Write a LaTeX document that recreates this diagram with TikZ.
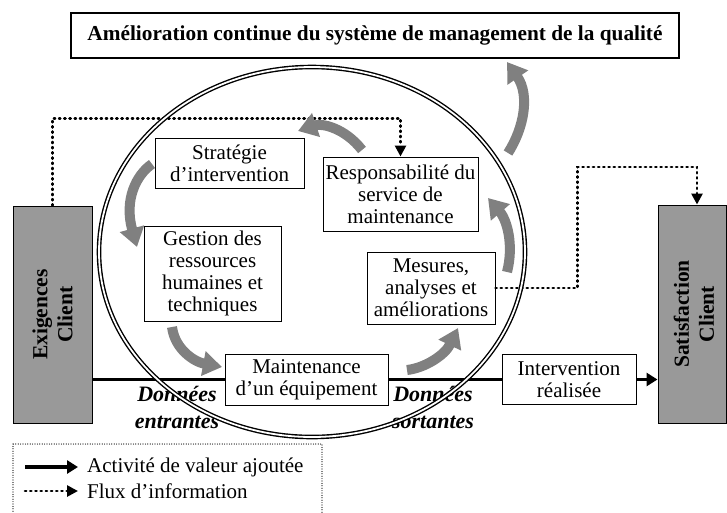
\documentclass[tikz,border=0pt]{standalone}
\usepackage{fontspec}
\setmainfont{Liberation Serif}
\usetikzlibrary{arrows.meta}

\begin{document}
\begin{tikzpicture}[x=1pt, y=-1pt,
    every node/.style={font=\fontsize{21}{22}\selectfont, align=center, inner sep=0pt},
    box/.style={draw, line width=1pt, fill=white},
    clientbox/.style={draw, line width=1pt, fill=black!40},
    clienttext/.style={rotate=90, font=\fontsize{21.5}{25}\selectfont\bfseries},
    flow/.style={line width=3.6pt},
    info/.style={line width=2.6pt, line cap=round, dash pattern=on 1.2pt off 4pt},
    cyclearrow/.style={gray, line width=10pt, -{Triangle[width=24pt, length=19pt]}},
    datalabel/.style={font=\fontsize{22}{27}\selectfont\bfseries\itshape}
]
    \useasboundingbox (0,0) rectangle (727,512);

    % Title
    \node[box, line width=1.4pt, minimum width=608pt, minimum height=45pt, font=\fontsize{21.3}{24}\selectfont\bfseries] (titre) at (375,35.5) {Amélioration continue du système de management de la qualité};

    % Exigences client
    \node[clientbox, minimum width=79pt, minimum height=217pt] (exig) at (52.5,314.5) {};
    \node[clienttext] (exigtxt) at (exig.center) {Exigences\\Client};

    % Satisfaction client
    \node[clientbox, minimum width=68pt, minimum height=218pt] (satis) at (692,314) {};
    \node[clienttext] (satistxt) at (694,314) {Satisfaction\\Client};

    % Process boxes
    \node[box, minimum width=149pt, minimum height=50pt] (strat) at (229.5,163) {Stratégie\\d’intervention};
    \node[box, minimum width=155pt, minimum height=74pt] (resp) at (400.5,194) {Responsabilité du\\service de\\maintenance};
    \node[box, minimum width=137pt, minimum height=95pt] (gestion) at (212.5,273.5) {Gestion des\\ressources\\humaines et\\techniques};
    \node[box, minimum width=128pt, minimum height=72pt] (mesures) at (431,288) {Mesures,\\analyses et\\améliorations};
    \node[box, minimum width=163pt, minimum height=51pt] (maint) at (306.5,379.5) {Maintenance\\d’un équipement};
    \node[box, minimum width=134pt, minimum height=50pt] (interv) at (569,379.5) {Intervention\\réalisée};

    % Donnees
    \node[datalabel] (entree) at (177,407) {Données\\entrantes};
    \node[datalabel] (sortie) at (433,407) {Données\\sortantes};

    % Value-added flow
    \draw[flow] (exig.east |- maint.west) -- (maint.west);
    \draw[flow] (maint.east) -- (interv.west);
    \draw[flow, -{Triangle[length=11pt, width=13pt]}] (interv.east) -- (interv.east -| satis.west);

    % Information flow
    \draw[info, -{Triangle[length=11pt, width=11pt]}] (exig.north) -- ++(0,-87) -| (resp.north);
    \draw[info, -{Triangle[length=11pt, width=11pt]}] (mesures.east) -- ++(82,0) -- ++(0,-121) -| ([xshift=5pt]satis.north);

    % Process ellipse
    \draw[line width=1.4pt, double, double distance=1.8pt] (312,252) ellipse [x radius=213, y radius=185];

    % Improvement cycle
    \draw[cyclearrow] (362,150) .. controls (345,128) and (322,123) .. (298,131);
    \draw[cyclearrow] (152,164) .. controls (136,175) and (124,200) .. (137,247);
    \draw[cyclearrow] (172,327) .. controls (175,350) and (195,362) .. (222,367);
    \draw[cyclearrow] (407,370) .. controls (425,368) and (445,355) .. (458,328);
    \draw[cyclearrow] (507,272) .. controls (514,245) and (507,220) .. (488,198);
    \draw[cyclearrow] (508,153) .. controls (524,128) and (530,95) .. (507,62);

    % Legend
    \draw[line width=1.2pt, line cap=round, dash pattern=on 0pt off 2.4pt] (13,444) rectangle (322,530);
    \coordinate (leg1a) at (25,467);
    \coordinate (leg1b) at (78,467);
    \coordinate (leg2a) at (25,491);
    \coordinate (leg2b) at (78,491);
    \draw[flow, -{Triangle[length=11pt, width=13pt]}] (leg1a) -- (leg1b);
    \draw[info, -{Triangle[length=11pt, width=11pt]}] (leg2a) -- (leg2b);
    \node[anchor=west] (legtxt1) at (87,467) {Activité de valeur ajoutée};
    \node[anchor=west] (legtxt2) at (87,491) {Flux d’information};
\end{tikzpicture}
\end{document}
